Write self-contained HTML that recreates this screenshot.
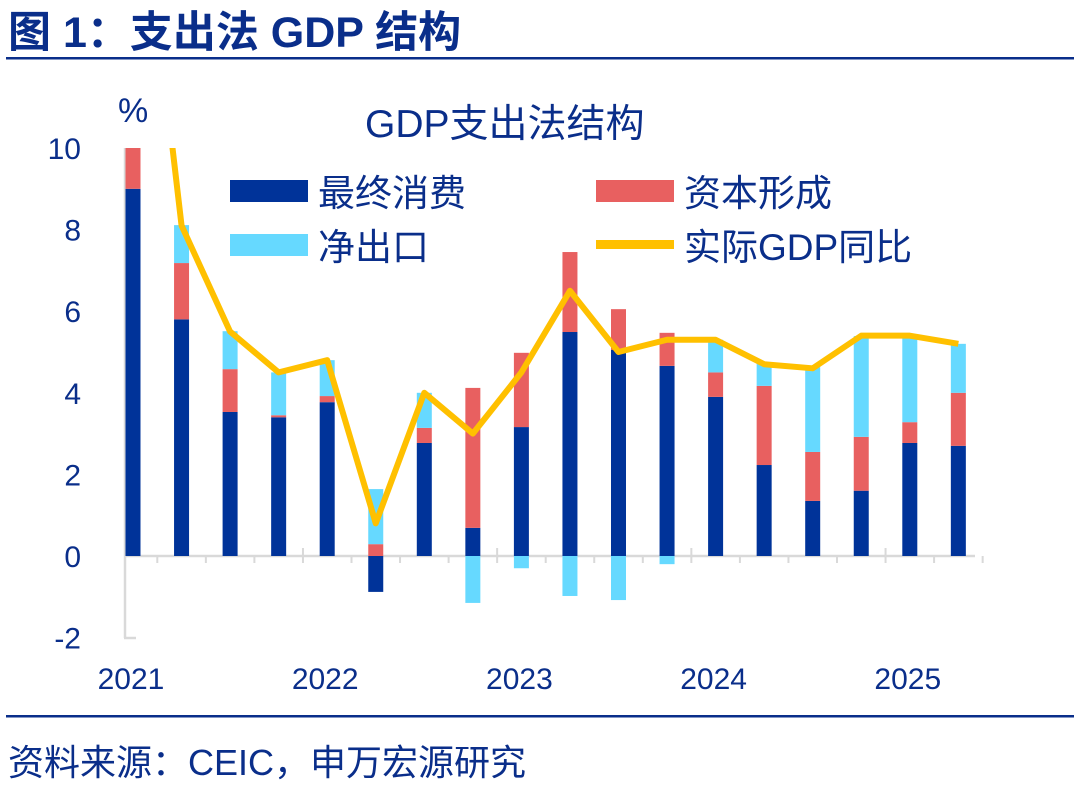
<!DOCTYPE html>
<html><head><meta charset="utf-8"><style>
body{margin:0;background:#fff;width:1080px;height:787px;overflow:hidden;font-family:"Liberation Sans","Noto Sans CJK SC",sans-serif}
</style></head><body>
<svg width="1080" height="787" style="position:absolute;left:0;top:0;font-family:'Liberation Sans','Noto Sans CJK SC',sans-serif">
<text x="8" y="47" font-size="43" font-weight="bold" fill="#0a2e8a">图 1：支出法 GDP 结构</text>
<rect x="6" y="57" width="1068" height="2.5" fill="#0a2e8a"/>
<rect x="6" y="715" width="1068" height="2.5" fill="#0a2e8a"/>
<text x="8" y="775" font-size="36" fill="#0a2e8a">资料来源：CEIC，申万宏源研究</text>
<text x="365" y="137" font-size="39" fill="#0a2e8a">GDP支出法结构</text>
<text x="118" y="122" font-size="34" fill="#0a2e8a">%</text>
<defs><clipPath id="plot"><rect x="100" y="148" width="900" height="500"/></clipPath></defs>
<g id="grid"></g>
<g id="bars" clip-path="url(#plot)"></g>
<g id="line" clip-path="url(#plot)"></g>
<g id="legend">
<rect x="230" y="180" width="78" height="22" fill="#003399"/>
<text x="318" y="206" font-size="37" fill="#0a2e8a">最终消费</text>
<rect x="596" y="180" width="78" height="22" fill="#e86060"/>
<text x="684" y="206" font-size="37" fill="#0a2e8a">资本形成</text>
<rect x="230" y="234" width="78" height="22" fill="#66d9ff"/>
<text x="318" y="260" font-size="37" fill="#0a2e8a">净出口</text>
<rect x="596" y="240" width="78" height="9" fill="#ffc000"/>
<text x="684" y="260" font-size="37" fill="#0a2e8a">实际GDP同比</text>
</g>
</svg>
<script>
const quarters=["2021Q1","2021Q2","2021Q3","2021Q4","2022Q1","2022Q2","2022Q3","2022Q4","2023Q1","2023Q2","2023Q3","2023Q4","2024Q1","2024Q2","2024Q3","2024Q4","2025Q1","2025Q2"];
const consumption=[9.0,5.8,3.53,3.4,3.77,-0.88,2.77,0.69,3.16,5.49,5.05,4.66,3.9,2.23,1.35,1.6,2.77,2.7];
const capital=[2.0,1.38,1.05,0.05,0.15,0.29,0.37,3.43,1.82,1.96,1.0,0.81,0.6,1.94,1.2,1.32,0.51,1.3];
const netExport=[7.3,0.93,0.93,1.05,0.88,1.35,0.86,-1.15,-0.3,-0.98,-1.08,-0.2,0.8,0.56,2.08,2.47,2.12,1.2];
const gdp=[18.3,8.1,5.5,4.5,4.8,0.8,4.0,3.0,4.5,6.5,5.0,5.3,5.3,4.7,4.6,5.4,5.4,5.2];
const yTicks=[-2,0,2,4,6,8,10];
const yearLabels=["2021","2022","2023","2024","2025"];
const NS="http://www.w3.org/2000/svg";
const y=v=>556-v*40.8;
const x=i=>133+i*48.55;
function mk(t,a,p){const e=document.createElementNS(NS,t);for(const k in a)e.setAttribute(k,a[k]);document.getElementById(p).appendChild(e);return e;}
const g='grid';
let e=mk('line',{x1:125,y1:148,x2:125,y2:638,stroke:'#d9d9d9','stroke-width':2.5},g);

e=mk('line',{x1:124,y1:638,x2:136,y2:638,stroke:'#d9d9d9','stroke-width':2.5},g);

e=mk('line',{x1:125,y1:556,x2:975,y2:556,stroke:'#d9d9d9','stroke-width':2.5},g);

yTicks.forEach(v=>{const t=mk('text',{x:81,y:y(v)+11,'font-size':30,fill:'#0a2e8a','text-anchor':'end'},g);t.textContent=v;
});
quarters.forEach((q,i)=>{const xb=x(i)+24.3;const big=(i%4==3);
const t=mk('line',{x1:xb,y1:big?548:556,x2:xb,y2:563,stroke:'#d9d9d9','stroke-width':2},g);
});
yearLabels.forEach((l,k)=>{const t=mk('text',{x:x(k*4)-2,y:689,'font-size':30,fill:'#0a2e8a','text-anchor':'middle'},g);t.textContent=l;
});
const w=15;
quarters.forEach((q,i)=>{let pos=0,neg=0;
[[consumption,'#003399','bar-consumption'],[capital,'#e86060','bar-capital'],[netExport,'#66d9ff','bar-netexport']].forEach(([arr,c,n])=>{
const v=arr[i];let a,b;if(v>=0){a=pos;b=pos+v;pos=b;}else{a=neg;b=neg+v;neg=b;}
const r=mk('rect',{x:x(i)-w/2,y:Math.min(y(a),y(b)),width:w,height:Math.abs(y(a)-y(b)),fill:c},'bars');
});});
const p=mk('polyline',{points:gdp.map((v,i)=>x(i)+','+y(v)).join(' '),fill:'none',stroke:'#ffc000','stroke-width':6,'stroke-linejoin':'round'},'line');

</script>
</body></html>
